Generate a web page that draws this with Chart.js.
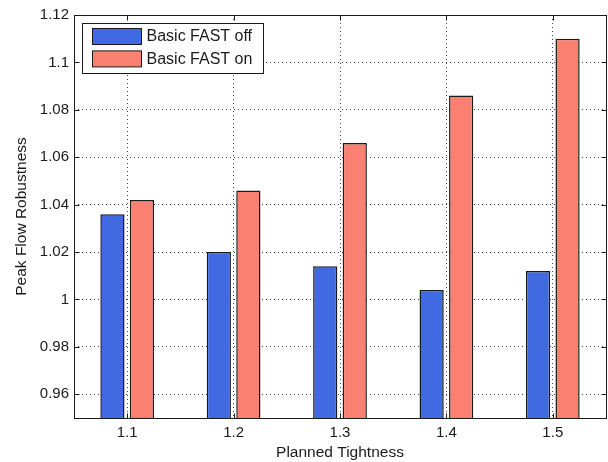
<!DOCTYPE html>
<html>
<head>
<meta charset="utf-8">
<title>Peak Flow Robustness vs Planned Tightness</title>
<script src="https://cdn.jsdelivr.net/npm/chart.js@4/dist/chart.umd.min.js"></script>
<style>
  html, body { margin: 0; padding: 0; background: #ffffff; }
  #wrap { width: 608px; height: 462px; position: relative; }
</style>
</head>
<body>
<div id="wrap"><canvas id="chart" width="608" height="462"></canvas></div>
<script>
// Planned tightness levels on the x axis
const categories = ['1.1', '1.2', '1.3', '1.4', '1.5'];
// Peak flow robustness with the basic FAST option off / on
const fastOff = [1.036, 1.020, 1.014, 1.004, 1.012];
const fastOn  = [1.042, 1.046, 1.066, 1.086, 1.110];
// Labelled ticks on the y axis
const yTicks = [0.96, 0.98, 1.00, 1.02, 1.04, 1.06, 1.08, 1.10, 1.12];
const seriesNames = ['Basic FAST off', 'Basic FAST on'];

const FONT = "'Liberation Sans', Arial, Helvetica, sans-serif";
const INK = '#1a1a1a';
Chart.defaults.font.family = FONT;
Chart.defaults.font.size = 15;
Chart.defaults.color = INK;

// Closed axes box with inward tick marks, plus a boxed legend in the upper-left corner
const framePlugin = {
  id: 'frame',
  afterDraw(chart, args, opts) {
    const { ctx, chartArea: a, scales: { x, y } } = chart;
    ctx.save();
    ctx.strokeStyle = INK;
    ctx.lineWidth = 1;
    const L = Math.round(a.left) + 0.5, R = Math.round(a.right) + 0.5;
    const T = Math.round(a.top) + 0.5, B = Math.round(a.bottom) + 0.5;
    ctx.strokeRect(L, T, R - L, B - T);
    const tl = opts.tickLength;
    ctx.beginPath();
    y.ticks.forEach(t => {
      const py = Math.round(y.getPixelForValue(t.value)) + 0.5;
      ctx.moveTo(L, py); ctx.lineTo(L + tl, py);
      ctx.moveTo(R, py); ctx.lineTo(R - tl, py);
    });
    x.ticks.forEach((t, i) => {
      const px = Math.round(x.getPixelForValue(i)) + 0.5;
      ctx.moveTo(px, B); ctx.lineTo(px, B - tl);
      ctx.moveTo(px, T); ctx.lineTo(px, T + tl);
    });
    ctx.stroke();

    // legend
    const lg = opts.legend;
    ctx.fillStyle = '#ffffff';
    ctx.fillRect(lg.x, lg.y, lg.w, lg.h);
    ctx.strokeRect(lg.x, lg.y, lg.w, lg.h);
    ctx.font = lg.fontSize + 'px ' + FONT;
    ctx.textBaseline = 'middle';
    ctx.textAlign = 'left';
    chart.data.datasets.forEach((ds, i) => {
      const sy = lg.y + lg.pad + i * lg.rowGap;
      ctx.fillStyle = ds.backgroundColor;
      ctx.fillRect(lg.x + lg.swX, sy, lg.swW, lg.swH);
      ctx.strokeStyle = INK;
      ctx.strokeRect(lg.x + lg.swX, sy, lg.swW, lg.swH);
      ctx.fillStyle = INK;
      ctx.fillText(ds.label, lg.x + lg.textX, sy + lg.swH / 2 + 0.5);
    });
    ctx.restore();
  }
};

const gridDots = { color: 'rgba(30,30,30,0.85)', lineWidth: 1 };

new Chart(document.getElementById('chart'), {
  type: 'bar',
  data: {
    labels: categories,
    datasets: [
      { label: seriesNames[0], data: fastOff, backgroundColor: '#4169e1',
        borderColor: INK, borderWidth: 1.5, categoryPercentage: 0.555, barPercentage: 0.82 },
      { label: seriesNames[1], data: fastOn, backgroundColor: '#fa8072',
        borderColor: INK, borderWidth: 1.5, categoryPercentage: 0.555, barPercentage: 0.82 }
    ]
  },
  options: {
    responsive: false,
    animation: false,
    layout: { padding: { left: 0, top: 15, right: 2, bottom: 0 } },
    plugins: {
      legend: { display: false },
      tooltip: { enabled: false },
      frame: {
        tickLength: 5,
        legend: { x: 82.5, y: 23.5, w: 181, h: 50, pad: 5, rowGap: 22.4,
                  swX: 10, swW: 49, swH: 16, textX: 64, fontSize: 16 }
      }
    },
    scales: {
      x: {
        grid: { ...gridDots, offset: false, drawTicks: false },
        border: { display: false, dash: [1, 3] },
        ticks: { padding: 6, font: { size: 15 }, color: INK },
        title: { display: true, text: 'Planned Tightness', font: { size: 15.5 }, color: INK,
                 padding: { top: 5, bottom: 0 } },
        afterFit(scale) { scale.height = 44; }
      },
      y: {
        min: 0.95,
        max: 1.12,
        grid: { ...gridDots, drawTicks: false },
        border: { display: false, dash: [1, 3] },
        afterBuildTicks(scale) { scale.ticks = yTicks.map(v => ({ value: v })); },
        ticks: {
          padding: 5, font: { size: 15 }, color: INK,
          callback: v => String(Number(Number(v).toFixed(2)))
        },
        title: { display: true, text: 'Peak Flow Robustness', font: { size: 15.5 }, color: INK,
                 padding: { top: 12, bottom: 0 } },
        afterFit(scale) { scale.width = 74; }
      }
    }
  },
  plugins: [framePlugin]
});
</script>
</body>
</html>
